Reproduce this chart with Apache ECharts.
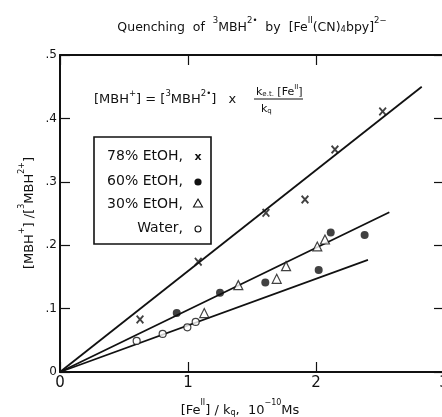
<!DOCTYPE html>
<html><head><meta charset="utf-8">
<script src="https://cdn.jsdelivr.net/npm/echarts@6/dist/echarts.min.js"></script>
<style>html,body{margin:0;padding:0;background:#fff}#c{width:442px;height:417px}</style>
</head><body><div id="c"></div>
<script>
// ---- data ----
const xTickLabels = ['0', '1', '2', '3'];
const yTickLabels = ['0', '.1', '.2', '.3', '.4', '.5'];
const etoh78 = [[0.625, 0.083], [1.080, 0.174], [1.609, 0.251], [1.914, 0.272], [2.148, 0.351], [2.521, 0.411]];
const etoh60 = [[0.912, 0.093], [1.250, 0.125], [1.604, 0.141], [2.021, 0.161], [2.115, 0.220], [2.380, 0.216]];
const etoh30 = [[1.127, 0.093], [1.393, 0.137], [1.693, 0.147], [1.766, 0.167], [2.010, 0.198], [2.070, 0.209]];
const water  = [[0.599, 0.049], [0.802, 0.060], [0.995, 0.0705], [1.060, 0.079]];
const fit78 = [[0, 0], [2.826, 0.450]];
const fit60 = [[0, 0], [2.573, 0.252]];
const fitWater = [[0, 0], [2.406, 0.177]];

const FONT = 'DejaVu Sans';
const INK = '#111';
const xMark = 'path://M0,1.6L1.6,0L5,3.4L8.4,0L10,1.6L6.6,5L10,8.4L8.4,10L5,6.6L1.6,10L0,8.4L3.4,5Z';

const chart = echarts.init(document.getElementById('c'), null, {renderer: 'canvas'});

function lineSeries(d) {
  return {type: 'line', data: d, symbol: 'none', silent: true, z: 2,
    lineStyle: {color: INK, width: 1.8}};
}
function axisBase(extra) {
  return Object.assign({
    type: 'value',
    axisLine: {show: true, onZero: false, lineStyle: {color: INK, width: 2}},
    axisTick: {show: true, inside: true, length: 10, lineStyle: {color: INK, width: 1.2}},
    splitLine: {show: false}
  }, extra);
}

const option = {
  animation: false,
  backgroundColor: '#fff',
  grid: {left: 60, top: 55, width: 384, height: 317, containLabel: false, outerBoundsMode: 'none'},
  xAxis: [
    axisBase({min: 0, max: 3, interval: 1, position: 'bottom',
     axisLabel: {margin: 4, fontSize: 15, fontFamily: FONT, color: INK,
       formatter: (v) => xTickLabels[Math.round(v)]}}),
    axisBase({min: 0, max: 3, interval: 1, position: 'top', axisLabel: {show: false}})
  ],
  yAxis: [
    axisBase({min: 0, max: 0.5, interval: 0.1, position: 'left',
     axisLabel: {margin: 3, fontSize: 12, fontFamily: FONT, color: INK,
       formatter: (v) => yTickLabels[Math.round(v * 10)]}}),
    axisBase({min: 0, max: 0.5, interval: 0.1, position: 'right', axisLabel: {show: false}})
  ],
  series: [
    lineSeries(fit78), lineSeries(fit60), lineSeries(fitWater),
    {type: 'scatter', name: '78% EtOH', data: etoh78, symbol: xMark, symbolSize: [8, 9], z: 5,
     itemStyle: {color: INK}},
    {type: 'scatter', name: '60% EtOH', data: etoh60, symbol: 'circle', symbolSize: 8, z: 5,
     itemStyle: {color: INK}},
    {type: 'scatter', name: '30% EtOH', data: etoh30, symbol: 'triangle', symbolSize: 9, z: 5,
     itemStyle: {color: '#fff', borderColor: INK, borderWidth: 1.2}},
    {type: 'scatter', name: 'Water', data: water, symbol: 'circle', symbolSize: 7, z: 5,
     itemStyle: {color: '#fff', borderColor: INK, borderWidth: 1.2}}
  ],
  graphic: [
    // title
    {type: 'text', x: 252, y: 25, style: {
      text: '{n|Quenching  of  }{s|3}{n|MBH}{s|2•}{n|  by  [Fe}{s|II}{n|(CN)}{b|4}{n|bpy]}{s|2−}',
      fill: INK, textAlign: 'center', textVerticalAlign: 'middle',
      rich: {
        n: {fontSize: 12.5, fontFamily: FONT, lineHeight: 18, verticalAlign: 'bottom', fill: INK},
        s: {fontSize: 8.5, fontFamily: FONT, lineHeight: 18, verticalAlign: 'top', fill: INK},
        b: {fontSize: 8.5, fontFamily: FONT, lineHeight: 14, verticalAlign: 'bottom', fill: INK}
      }}},
    // formula
    {type: 'text', x: 94, y: 98, style: {
      text: '{n|[MBH}{s|+}{n|] = [}{s|3}{n|MBH}{s|2•}{n|]   x}',
      fill: INK, textVerticalAlign: 'middle',
      rich: {
        n: {fontSize: 13, fontFamily: FONT, lineHeight: 17, verticalAlign: 'bottom', fill: INK},
        s: {fontSize: 8.5, fontFamily: FONT, lineHeight: 17, verticalAlign: 'top', fill: INK}
      }}},
    {type: 'text', x: 256, y: 84, style: {
      text: '{n|k}{b|e.t.}{n| [Fe}{s|II}{n|]}',
      fill: INK,
      rich: {
        n: {fontSize: 11, fontFamily: FONT, lineHeight: 14, verticalAlign: 'bottom', fill: INK},
        s: {fontSize: 7, fontFamily: FONT, lineHeight: 14, verticalAlign: 'top', fill: INK},
        b: {fontSize: 7, fontFamily: FONT, lineHeight: 12, verticalAlign: 'bottom', fill: INK}
      }}},
    {type: 'line', shape: {x1: 254, y1: 99, x2: 303, y2: 99}, style: {stroke: INK, lineWidth: 1.2}},
    {type: 'text', x: 261, y: 101, style: {
      text: '{n|k}{b|q}', fill: INK,
      rich: {
        n: {fontSize: 11, fontFamily: FONT, lineHeight: 14, verticalAlign: 'bottom', fill: INK},
        b: {fontSize: 7, fontFamily: FONT, lineHeight: 12, verticalAlign: 'bottom', fill: INK}
      }}},
    // legend box
    {type: 'rect', shape: {x: 94, y: 137, width: 117, height: 107},
     style: {fill: '#fff', stroke: INK, lineWidth: 1.6}, z: 10},
    {type: 'text', x: 183, y: 156, z: 11, style: {text: '78% EtOH,', fill: INK, font: '14px ' + FONT, textAlign: 'right', textVerticalAlign: 'middle'}},
    {type: 'text', x: 183, y: 181, z: 11, style: {text: '60% EtOH,', fill: INK, font: '14px ' + FONT, textAlign: 'right', textVerticalAlign: 'middle'}},
    {type: 'text', x: 183, y: 204, z: 11, style: {text: '30% EtOH,', fill: INK, font: '14px ' + FONT, textAlign: 'right', textVerticalAlign: 'middle'}},
    {type: 'text', x: 183, y: 228, z: 11, style: {text: 'Water,', fill: INK, font: '14px ' + FONT, textAlign: 'right', textVerticalAlign: 'middle'}},
    {type: 'text', x: 198, y: 157, z: 11, style: {text: 'x', fill: INK, font: 'bold 11px ' + FONT, textAlign: 'center', textVerticalAlign: 'middle'}},
    {type: 'circle', shape: {cx: 198, cy: 182, r: 3.6}, style: {fill: INK}, z: 11},
    {type: 'polygon', shape: {points: [[198, 199], [202.5, 207], [193.5, 207]]}, style: {fill: '#fff', stroke: INK, lineWidth: 1.1}, z: 11},
    {type: 'circle', shape: {cx: 198, cy: 229, r: 3}, style: {fill: '#fff', stroke: INK, lineWidth: 1.1}, z: 11},
    // y-axis title
    {type: 'text', x: 27, y: 213, rotation: Math.PI / 2, style: {
      text: '{n|[MBH}{s|+}{n|] /[}{s|3}{n|MBH}{s|2+}{n|]}',
      fill: INK, textAlign: 'center', textVerticalAlign: 'middle',
      rich: {
        n: {fontSize: 13, fontFamily: FONT, lineHeight: 18, verticalAlign: 'bottom', fill: INK},
        s: {fontSize: 8, fontFamily: FONT, lineHeight: 18, verticalAlign: 'top', fill: INK}
      }}},
    // x-axis title
    {type: 'text', x: 240, y: 408, style: {
      text: '{n|[Fe}{s|II}{n|] / k}{b|q}{n|,  10}{s|−10}{n|Ms}',
      fill: INK, textAlign: 'center', textVerticalAlign: 'middle',
      rich: {
        n: {fontSize: 13, fontFamily: FONT, lineHeight: 18, verticalAlign: 'bottom', fill: INK},
        s: {fontSize: 8, fontFamily: FONT, lineHeight: 18, verticalAlign: 'top', fill: INK},
        b: {fontSize: 8, fontFamily: FONT, lineHeight: 14, verticalAlign: 'bottom', fill: INK}
      }}}
  ]
};
chart.setOption(option);
</script>
</body></html>
